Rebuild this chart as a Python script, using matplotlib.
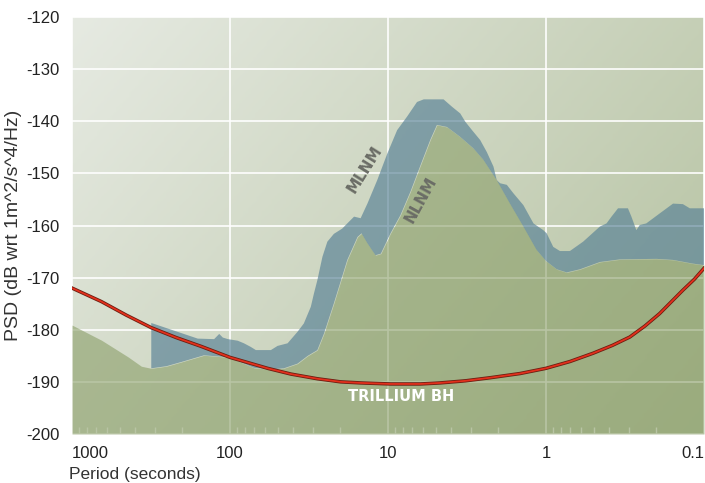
import numpy as np
import matplotlib
matplotlib.use("Agg")
import matplotlib.pyplot as plt
import matplotlib.patheffects as pe
from matplotlib.colors import LinearSegmentedColormap

# New Low Noise Model (lower boundary, green fill)
nlnm_period = [1000, 651, 442, 364, 315, 253, 204, 146, 101, 70.6, 55, 45.6, 37.4,
               32.2, 28.0, 25.4, 22.0, 18.1, 15.6, 14.7, 13.5, 12.0, 11.1, 9.64,
               8.34, 7.21, 6.24, 5.39, 4.90, 4.23, 3.49, 2.88, 2.49, 2.05, 1.69,
               1.39, 1.146, 1.0, 0.855, 0.739, 0.61, 0.456, 0.341, 0.2, 0.157,
               0.118, 0.1]
nlnm_db = [-179.1, -182.0, -185.2, -187.0, -187.4, -187.0, -186.2, -184.9, -185.3,
           -187.3, -187.6, -187.4, -186.5, -185.0, -183.9, -180.7, -174.9, -166.6,
           -162.2, -161.5, -163.4, -165.7, -165.4, -161.5, -158.0, -153.5, -148.5,
           -143.5, -140.7, -141.1, -143.0, -145.2, -147.4, -151.3, -155.8, -160.2,
           -164.7, -166.8, -168.4, -169.0, -168.4, -167.0, -166.5, -166.4, -166.6,
           -167.3, -167.6]

# upper edge of the MLNM band
mlnm_period = [315, 160, 126, 117, 111, 103, 89.4, 81.6, 73.8, 68.6, 55.1, 50.0,
               43.2, 37.4, 34.1, 30.8, 29.4, 28.0, 26.0, 24.2, 22.0, 19.5, 18.1,
               16.4, 14.9, 13.5, 11.7, 10.1, 8.75, 7.57, 6.55, 5.94, 4.45, 3.94,
               3.49, 3.24, 2.94, 2.61, 2.37, 2.15, 2.05, 1.95, 1.77, 1.61, 1.39,
               1.20, 1.04, 0.99, 0.90, 0.816, 0.706, 0.582, 0.456, 0.414, 0.385,
               0.350, 0.303, 0.288, 0.268, 0.255, 0.232, 0.191, 0.157, 0.136,
               0.123, 0.1]
mlnm_db = [-178.7, -181.7, -181.8, -180.8, -181.5, -181.8, -182.1, -182.6, -183.3,
           -183.9, -183.9, -183.1, -182.6, -180.4, -178.8, -175.6, -173.0, -170.5,
           -166.0, -163.1, -161.6, -160.6, -159.6, -158.3, -158.6, -155.8, -151.3,
           -146.2, -141.7, -139.1, -136.3, -135.8, -135.8, -137.2, -138.5, -140.1,
           -141.7, -143.6, -145.9, -148.7, -151.3, -151.9, -152.2, -153.8, -156.1,
           -159.6, -160.9, -161.5, -164.1, -164.9, -164.9, -163.1, -160.2, -159.6,
           -158.3, -156.7, -156.7, -158.3, -160.9, -159.9, -159.6, -157.7, -155.8,
           -155.9, -156.7, -156.7]

# Trillium BH self noise
bh_period = [1000, 651, 453, 315, 219, 152, 100, 57.8, 41.2, 28.0, 19.9, 14.9,
             9.64, 6.24, 4.67, 3.24, 2.25, 1.46, 1.0, 0.706, 0.503, 0.38, 0.295,
             0.237, 0.191, 0.136, 0.115, 0.1]
bh_db = [-172.0, -174.6, -177.2, -179.6, -181.5, -183.2, -185.3, -187.4, -188.5,
         -189.4, -190.0, -190.2, -190.4, -190.4, -190.2, -189.8, -189.2, -188.4,
         -187.4, -186.1, -184.5, -183.0, -181.4, -179.3, -176.9, -172.4, -170.3,
         -168.2]

xticks = [1000, 100, 10, 1, 0.1]
xticklabels = ["1000", "100", "10", "1", "0.1"]
yticks = list(range(-200, -119, 10))

plt.rcParams['font.family'] = ['Liberation Sans', 'DejaVu Sans']
plt.rcParams['axes.unicode_minus'] = False

fig = plt.figure(figsize=(7.05, 4.83), dpi=100)
rect = [72 / 705, 49 / 483, 632 / 705, 417 / 483]

# gradient background behind the plot
bg = fig.add_axes(rect, zorder=0)
bg.axis('off')
u = np.linspace(0, 1, 200)
v = np.linspace(0, 1, 140)
U, V = np.meshgrid(u, v)
grad = 0.65 * U + 0.35 * V
bg_cmap = LinearSegmentedColormap.from_list("bg", ["#e6eae2", "#b4c19f"])
bg.imshow(grad, cmap=bg_cmap, aspect='auto', extent=[0, 1, 0, 1], origin='upper')

ax = fig.add_axes(rect, zorder=1)
ax.set_facecolor('none')
ax.set_xscale('log')
ax.set_xlim(1000, 0.1)
ax.set_ylim(-200, -120)

ax.grid(True, which='major', color='white', lw=1.3, alpha=0.9, zorder=0.5)
ax.set_axisbelow(True)

ax.fill_between(nlnm_period, nlnm_db, -200, color='#8a9e68', alpha=0.6, lw=0, zorder=2)

band_x = mlnm_period + [p for p in nlnm_period if p <= 315][::-1]
band_y = mlnm_db + [d for p, d in zip(nlnm_period, nlnm_db) if p <= 315][::-1]
ax.fill(band_x, band_y, color='#557f95', alpha=0.65, lw=0, zorder=3)

ax.plot(bh_period, bh_db, color='#e2301c', lw=1.3, zorder=5,
        path_effects=[pe.Stroke(linewidth=2.5, foreground='#6a1e12'), pe.Normal()])

lab_font = dict(fontweight='bold', family=['DejaVu Sans'], zorder=6,
                ha='center', va='center')
ax.text(14.1, -149.2, "MLNM", rotation=58, fontsize=11, color='#6b6d66', **lab_font)
ax.text(6.15, -155.1, "NLNM", rotation=61, fontsize=11, color='#6b6d66', **lab_font)
ax.text(8.3, -192.9, "TRILLIUM BH", fontsize=10.5, color='white', **lab_font)

for s in ax.spines.values():
    s.set_visible(False)

ax.set_xticks(xticks)
ax.set_xticklabels(xticklabels)
labs = ax.get_xticklabels()
labs[0].set_ha('left')
labs[-1].set_ha('right')
ax.set_yticks(yticks)
ax.tick_params(axis='both', which='major', length=0, labelsize=12, colors='#222222')
ax.tick_params(axis='x', which='major', pad=9)
ax.tick_params(axis='y', which='major', pad=9)
ax.tick_params(axis='x', which='minor', direction='in', length=5, width=1,
               color='white', labelbottom=False)
ax.tick_params(axis='y', which='minor', length=0)

ax.set_ylabel("PSD (dB wrt 1m^2/s^4/Hz)", fontsize=14, color='#333333', labelpad=3)
ax.set_xlabel("Period (seconds)", fontsize=12.5, color='#333333', loc='left', labelpad=4)
ax.xaxis.label.set_x(-0.004)

fig.savefig("out.png", dpi=100)
